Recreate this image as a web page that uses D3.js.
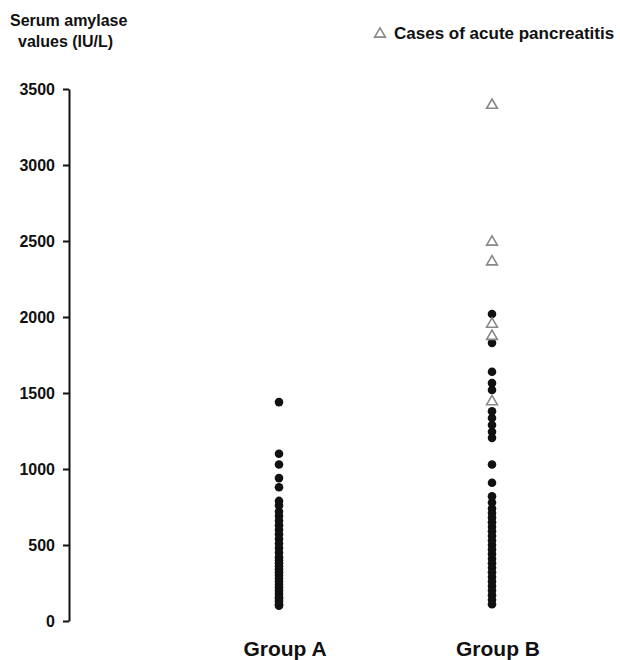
<!DOCTYPE html>
<html>
<head>
<meta charset="utf-8">
<script src="https://cdn.jsdelivr.net/npm/d3@7"></script>
<style>
  body { margin: 0; background: #fff; }
  text { font-family: "Liberation Sans", Arial, sans-serif; font-weight: bold; fill: #111; }
</style>
</head>
<body>
<svg id="chart" width="620" height="660"></svg>
<script>
// values (IU/L)
const groups = ["Group A", "Group B"];
const yTicks = [0, 500, 1000, 1500, 2000, 2500, 3000, 3500];

const groupA = [1440, 1100, 1030, 940, 880, 790, 760, 720, 690, 660, 630, 600, 570,
    540, 510, 480, 450, 420, 400, 380, 360, 340, 320, 300, 280, 260, 240, 220,
    200, 180, 160, 150, 130, 110, 100];

const groupB = [2020, 1830, 1640, 1565, 1520, 1380, 1335, 1290, 1245, 1205, 1030,
    910, 820, 780, 740, 710, 680, 650, 620, 590, 560, 530, 500, 470, 440, 410,
    380, 350, 320, 290, 260, 230, 200, 170, 140, 110];

// acute pancreatitis cases, all in group B
const pancreatitis = [3400, 2500, 2370, 1960, 1880, 1450];

const svg = d3.select("#chart");

const y = d3.scaleLinear().domain([0, 3500]).range([621, 89]);
const x = d3.scalePoint().domain(groups).range([279, 492]);

// y axis
const yAxis = svg.append("g")
    .attr("transform", "translate(69,0)")
    .call(d3.axisLeft(y).tickValues(yTicks).tickFormat(d3.format("d"))
        .tickSize(6).tickPadding(8).tickSizeOuter(0));
yAxis.select(".domain").attr("stroke", "#111").attr("stroke-width", 2);
yAxis.selectAll(".tick line").attr("stroke", "#111").attr("stroke-width", 2);
yAxis.selectAll(".tick text")
    .style("font-family", '"Liberation Sans", Arial, sans-serif')
    .style("font-weight", "bold")
    .style("font-size", "16px")
    .attr("fill", "#111");

// group labels
svg.append("g").selectAll("text")
    .data(groups)
    .join("text")
    .attr("x", d => x(d) + 6)
    .attr("y", 656)
    .attr("text-anchor", "middle")
    .style("font-size", "21px")
    .text(d => d);

const dots = [
    ...groupA.map(v => ({ g: "Group A", v })),
    ...groupB.map(v => ({ g: "Group B", v }))
];

svg.append("g").selectAll("circle")
    .data(dots)
    .join("circle")
    .attr("cx", d => x(d.g))
    .attr("cy", d => y(d.v))
    .attr("r", 4.3)
    .attr("fill", "#111");

const tri = d3.symbol().type(d3.symbolTriangle).size(50);

svg.append("g").selectAll("path")
    .data(pancreatitis)
    .join("path")
    .attr("d", tri)
    .attr("transform", d => `translate(${x("Group B")},${y(d) + 1})`)
    .attr("fill", "#fff")
    .attr("stroke", "#888")
    .attr("stroke-width", 1.6);

// axis title
svg.append("text").attr("x", 10).attr("y", 26).style("font-size", "16px").text("Serum amylase");
svg.append("text").attr("x", 18).attr("y", 47).style("font-size", "16px").text("values (IU/L)");

// legend
svg.append("path")
    .attr("d", tri)
    .attr("transform", "translate(380,34)")
    .attr("fill", "#fff")
    .attr("stroke", "#888")
    .attr("stroke-width", 1.6);
svg.append("text").attr("x", 394).attr("y", 39).style("font-size", "17px").text("Cases of acute pancreatitis");
</script>
</body>
</html>
